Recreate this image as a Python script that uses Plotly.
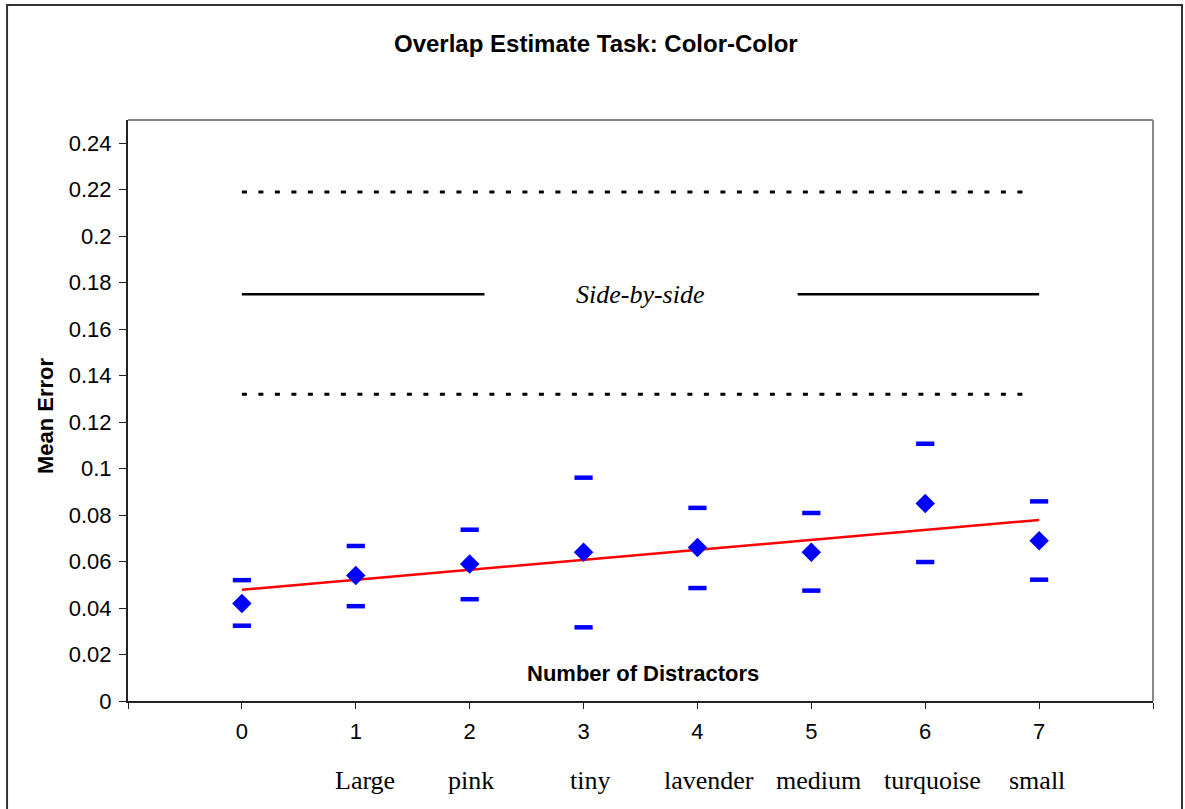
import numpy as np
import plotly.graph_objects as go

# ---- data ----
distractors = [0, 1, 2, 3, 4, 5, 6, 7]
category_labels = ["", "Large", "pink", "tiny", "lavender", "medium", "turquoise", "small"]
mean_error = [0.042, 0.054, 0.059, 0.064, 0.066, 0.064, 0.085, 0.069]
upper_ci = [0.052, 0.0667, 0.0737, 0.0961, 0.0831, 0.0809, 0.1107, 0.0859]
lower_ci = [0.0324, 0.0408, 0.0438, 0.0317, 0.0486, 0.0475, 0.0598, 0.0522]

sbs_x_left = [0, 2.13]
sbs_x_right = [4.88, 7]
sbs_x_dotted = [0, 6.91]
sbs_mean = 0.175
sbs_upper = 0.219
sbs_lower = 0.132

x_ticks = [-1, 0, 1, 2, 3, 4, 5, 6, 7, 8]
x_ticktext = ["", "0", "1", "2", "3", "4", "5", "6", "7", ""]

# pixel nudges of the category captions (layout only)
label_xshift = [0, 9, 1, 6, 12, 7, 7, -2]

# linear trend of means
slope, intercept = np.polyfit(distractors, mean_error, 1)
trend_x = [distractors[0], distractors[-1]]
trend_y = [intercept + slope * v for v in trend_x]

SANS = "Arial, Liberation Sans, sans-serif"
SERIF = "Times New Roman, Liberation Serif, serif"
BLUE = "#0000FF"

fig = go.Figure()

# side-by-side reference lines
for yv in (sbs_upper, sbs_lower):
    fig.add_trace(go.Scatter(x=sbs_x_dotted, y=[yv, yv], mode="lines",
                             line=dict(color="black", width=3, dash="5px,11.5px"),
                             hoverinfo="skip", showlegend=False))
for xs in (sbs_x_left, sbs_x_right):
    fig.add_trace(go.Scatter(x=xs, y=[sbs_mean, sbs_mean], mode="lines",
                             line=dict(color="black", width=2.5),
                             hoverinfo="skip", showlegend=False))

# trend line
fig.add_trace(go.Scatter(x=trend_x, y=trend_y, mode="lines",
                         line=dict(color="#FF0000", width=2.5),
                         showlegend=False))

# CI bars
for ys in (upper_ci, lower_ci):
    fig.add_trace(go.Scatter(x=distractors, y=ys, mode="markers",
                             marker=dict(symbol="line-ew", size=13,
                                         line=dict(color=BLUE, width=4.5)),
                             showlegend=False))

# means
fig.add_trace(go.Scatter(x=distractors, y=mean_error, mode="markers",
                         marker=dict(symbol="diamond", size=15, color=BLUE,
                                     line=dict(width=0)),
                         showlegend=False))

annotations = [
    dict(text="<b>Overlap Estimate Task: Color-Color</b>", xref="paper", yref="paper",
         x=0.4566, y=1.1325, xanchor="center", yanchor="middle", showarrow=False,
         font=dict(family=SANS, size=24, color="black")),
    dict(text="<b>Mean Error</b>", xref="paper", yref="paper",
         x=-0.081, y=0.492, xanchor="center", yanchor="middle", textangle=-90,
         showarrow=False, font=dict(family=SANS, size=22, color="black")),
    dict(text="<b>Number of Distractors</b>", xref="paper", yref="paper",
         x=0.502, y=0.048, xanchor="center", yanchor="middle", showarrow=False,
         font=dict(family=SANS, size=22, color="black")),
    dict(text="<i>Side-by-side</i>", xref="x", yref="y", x=3.5, y=sbs_mean,
         xanchor="center", yanchor="middle", showarrow=False,
         font=dict(family=SERIF, size=26, color="black")),
]
for xv, lab, sh in zip(distractors, category_labels, label_xshift):
    if lab:
        annotations.append(dict(text=lab, xref="x", yref="paper", x=xv, y=-0.136,
                                xshift=sh, xanchor="center", yanchor="middle",
                                showarrow=False,
                                font=dict(family=SERIF, size=26, color="black")))

shapes = [
    # outer chart frame
    dict(type="rect", xref="paper", yref="paper", x0=-0.118, x1=1.0283, y0=-0.25, y1=1.198,
         line=dict(color="#333333", width=2), layer="below"),
    # gray plot border top/right
    dict(type="line", xref="paper", yref="paper", x0=0, x1=1, y0=1, y1=1,
         line=dict(color="#888888", width=2)),
    dict(type="line", xref="paper", yref="paper", x0=1, x1=1, y0=0, y1=1,
         line=dict(color="#888888", width=2)),
]

fig.update_layout(
    width=1185, height=809,
    margin=dict(l=128, r=32, t=120, b=108),
    paper_bgcolor="white", plot_bgcolor="white",
    showlegend=False,
    annotations=annotations,
    shapes=shapes,
    xaxis=dict(range=[-1, 8], tickvals=x_ticks, ticktext=x_ticktext,
               showgrid=False, zeroline=False, showline=True, linecolor="#222222",
               linewidth=2, ticks="outside", ticklen=6, tickwidth=1, tickcolor="#222222",
               tickfont=dict(family=SANS, size=22, color="black"),
               ticklabelstandoff=4),
    yaxis=dict(range=[0, 0.25], dtick=0.02, tick0=0,
               showgrid=False, zeroline=False, showline=True, linecolor="#222222",
               linewidth=2, ticks="outside", ticklen=7, tickwidth=1, tickcolor="#222222",
               tickfont=dict(family=SANS, size=22, color="black"),
               ticklabelstandoff=3),
)

fig.write_html("out.html")
